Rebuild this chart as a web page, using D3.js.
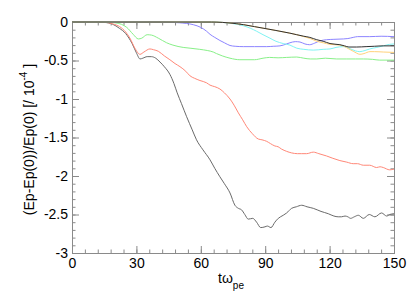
<!DOCTYPE html>
<html>
<head>
<meta charset="utf-8">
<script src="https://cdn.jsdelivr.net/npm/d3@7"></script>
<style>
  body { margin: 0; background: #fff; }
  text { font-family: "Liberation Sans", Arial, sans-serif; }
</style>
</head>
<body>
<div id="chart"></div>
<script>
// series: [t, value] pairs
var grayData = [[0,0],[10,0],[15,-0.005],[19,-0.03],[22,-0.08],[25,-0.15],[28,-0.28],[30,-0.4],[31.7,-0.48],[33,-0.47],[35,-0.45],[37,-0.45],[39,-0.47],[41,-0.52],[43,-0.58],[45.6,-0.68],[47.5,-0.8],[49,-0.92],[51,-1.06],[53.4,-1.23],[56,-1.4],[58,-1.53],[61,-1.66],[64.3,-1.79],[66.5,-1.9],[68.9,-2.01],[71,-2.1],[73.6,-2.22],[75.9,-2.38],[77.5,-2.42],[79,-2.44],[80.5,-2.5],[82.1,-2.56],[84.2,-2.55],[86,-2.6],[87.9,-2.67],[89.9,-2.66],[91,-2.65],[92.7,-2.67],[94.5,-2.6],[96.1,-2.55],[98.4,-2.51],[100,-2.48],[102.3,-2.42],[104.5,-2.4],[107,-2.38],[109.5,-2.4],[112.4,-2.42],[116,-2.46],[119.4,-2.49],[122,-2.52],[124,-2.53],[125.5,-2.53],[127.2,-2.52],[128.5,-2.53],[129.8,-2.55],[131.5,-2.53],[133.4,-2.51],[135.7,-2.55],[138.5,-2.5],[141.1,-2.53],[144.2,-2.48],[146.6,-2.52],[148,-2.5],[150,-2.49]];
var redData = [[0,0],[12,0],[16,-0.005],[19,-0.025],[22.2,-0.06],[25,-0.13],[27,-0.21],[29.3,-0.34],[31.7,-0.42],[33.5,-0.39],[36.3,-0.35],[38,-0.36],[40.2,-0.38],[43,-0.44],[45.6,-0.49],[48,-0.54],[50.3,-0.58],[53,-0.64],[55,-0.7],[57,-0.73],[59.6,-0.76],[62.7,-0.79],[64.3,-0.82],[66.5,-0.84],[68.9,-0.87],[71,-0.92],[73.6,-1.0],[75.5,-1.08],[77.5,-1.18],[79.5,-1.27],[81.4,-1.36],[84,-1.45],[86.8,-1.52],[88.5,-1.53],[90.7,-1.55],[92.5,-1.58],[94.5,-1.61],[96,-1.62],[97.6,-1.65],[100,-1.68],[102.3,-1.7],[105,-1.71],[107,-1.71],[109.3,-1.71],[112.4,-1.69],[115,-1.71],[118.6,-1.74],[121.5,-1.77],[124.8,-1.8],[128,-1.82],[131,-1.84],[133,-1.84],[135.7,-1.86],[138.7,-1.86],[141.9,-1.89],[143.5,-1.88],[145,-1.89],[148,-1.92],[150,-1.91]];
var greenData = [[0,0],[15,0],[20,-0.01],[23,-0.03],[25.5,-0.07],[28.5,-0.16],[30.9,-0.22],[32.5,-0.21],[35,-0.165],[37,-0.17],[40.2,-0.21],[44.1,-0.27],[47,-0.3],[51.8,-0.33],[55,-0.34],[59.5,-0.355],[63,-0.37],[65.8,-0.39],[67.3,-0.41],[70,-0.44],[73.6,-0.47],[78.2,-0.49],[85,-0.49],[89,-0.47],[92,-0.46],[96,-0.465],[100,-0.46],[104.7,-0.455],[108,-0.47],[111,-0.48],[114,-0.48],[118,-0.47],[123.3,-0.48],[128,-0.48],[132,-0.48],[135.7,-0.48],[140,-0.485],[143.3,-0.495],[150,-0.495]];
var blueData = [[0,0],[40,0],[45.6,-0.003],[50,-0.01],[56.5,-0.035],[60,-0.07],[62.7,-0.12],[64.3,-0.16],[66.5,-0.2],[68.9,-0.24],[71,-0.27],[73.6,-0.305],[76,-0.315],[79.8,-0.32],[85,-0.32],[90.7,-0.32],[94,-0.315],[96.9,-0.31],[98.4,-0.3],[101.5,-0.27],[104,-0.255],[106.2,-0.26],[108.5,-0.285],[110.7,-0.295],[113,-0.275],[115.5,-0.245],[118.6,-0.23],[122,-0.225],[126.4,-0.22],[128.5,-0.215],[131,-0.2],[133,-0.19],[138.7,-0.19],[144,-0.185],[150,-0.19]];
var cyanData = [[0,0],[65,0],[70,-0.005],[73.6,-0.015],[77,-0.03],[80,-0.05],[83,-0.08],[86,-0.12],[89,-0.165],[92.2,-0.21],[95,-0.25],[98.4,-0.28],[101.5,-0.3],[104.7,-0.34],[108,-0.355],[112.4,-0.365],[117,-0.355],[120.2,-0.35],[123,-0.33],[126.4,-0.32],[129,-0.34],[132,-0.375],[134.1,-0.385],[136.5,-0.37],[138.7,-0.35],[142,-0.33],[145,-0.31],[148,-0.29],[150,-0.285]];
var yellowData = [[0,0],[65,0],[70,-0.005],[73.6,-0.013],[80,-0.035],[85,-0.06],[89,-0.08],[95,-0.11],[101.5,-0.145],[104.7,-0.165],[108,-0.19],[111,-0.215],[114,-0.25],[117,-0.27],[120.2,-0.29],[124.8,-0.3],[127,-0.32],[129,-0.35],[131,-0.38],[132.6,-0.405],[134.1,-0.42],[136,-0.41],[138.8,-0.385],[141,-0.385],[145,-0.39],[150,-0.395]];
var blackData = [[0,0],[65,0],[70,-0.005],[73.6,-0.013],[80,-0.035],[85,-0.06],[89,-0.08],[95,-0.11],[101.5,-0.145],[104.7,-0.165],[108,-0.185],[110.8,-0.2],[114,-0.23],[117,-0.25],[120.2,-0.28],[124.8,-0.295],[127,-0.31],[129,-0.325],[132.6,-0.325],[137,-0.32],[141,-0.315],[145,-0.31],[150,-0.31]];

var xTicks = [0, 30, 60, 90, 120, 150];
var yTicks = [0, -0.5, -1, -1.5, -2, -2.5, -3];

var svgWidth = 415;
var svgHeight = 297;

var margin = {
  top: 22,
  right: 21,
  bottom: 44,
  left: 72
};

var width = svgWidth - margin.left - margin.right;
var height = svgHeight - margin.top - margin.bottom;

var svg = d3.select("#chart")
    .append("svg")
    .attr("width", svgWidth)
    .attr("height", svgHeight);

var chartGroup = svg.append("g")
    .attr("transform", `translate(${margin.left}, ${margin.top})`);

var xScale = d3.scaleLinear().domain([0, 150]).range([0, width]);
var yScale = d3.scaleLinear().domain([-3, 0]).range([height, 0]);

var xMinor = d3.range(0, 151, 6);
var yMinor = d3.range(0, 31).map(i => -i / 10);

var axisColor = "#8a8a8a";

// minor ticks, all four sides, pointing inward
function drawAxis(axis, transform) {
  var g = chartGroup.append("g")
      .attr("transform", transform)
      .call(axis);
  g.selectAll("line").attr("stroke", axisColor);
  g.select(".domain").attr("stroke", axisColor);
  g.selectAll("text")
      .attr("fill", "#000")
      .style("font-size", "14px")
      .style("font-family", "'Liberation Sans', Arial, sans-serif");
  return g;
}

drawAxis(d3.axisBottom(xScale).tickValues(xMinor).tickSize(-3.5).tickFormat(""), `translate(0,${height})`);
drawAxis(d3.axisTop(xScale).tickValues(xMinor).tickSize(-3.5).tickFormat(""), "translate(0,0)");
drawAxis(d3.axisLeft(yScale).tickValues(yMinor).tickSize(-3.5).tickFormat(""), "translate(0,0)");
drawAxis(d3.axisRight(yScale).tickValues(yMinor).tickSize(-3.5).tickFormat(""), `translate(${width},0)`);

// major ticks with labels
drawAxis(d3.axisBottom(xScale).tickValues(xTicks).tickSizeInner(-7).tickSizeOuter(0).tickPadding(5)
    .tickFormat(d => String(d)), `translate(0,${height})`);
drawAxis(d3.axisTop(xScale).tickValues(xTicks).tickSizeInner(-7).tickSizeOuter(0).tickFormat(""), "translate(0,0)");
drawAxis(d3.axisLeft(yScale).tickValues(yTicks).tickSizeInner(-7).tickSizeOuter(0).tickPadding(4)
    .tickFormat(d => String(d)), "translate(0,0)");
drawAxis(d3.axisRight(yScale).tickValues(yTicks).tickSizeInner(-7).tickSizeOuter(0).tickFormat(""), `translate(${width},0)`);

var line = d3.line()
    .x(d => xScale(d[0]))
    .y(d => yScale(d[1]))
    .curve(d3.curveMonotoneX);

var series = [
  { data: grayData, color: "#6a6a6a" },
  { data: redData, color: "#ff8878" },
  { data: greenData, color: "#88f088" },
  { data: blueData, color: "#8c84ff" },
  { data: cyanData, color: "#80f4f4" },
  { data: yellowData, color: "#ffd27a" },
  { data: blackData, color: "#303030" }
];

series.forEach(s => {
  chartGroup.append("path")
      .datum(s.data)
      .attr("fill", "none")
      .attr("stroke", s.color)
      .attr("stroke-width", 1)
      .attr("d", line);
});

// axis titles
var yLabel = svg.append("text")
    .attr("transform", `translate(34, ${margin.top + height / 2 + 2}) rotate(-90)`)
    .attr("text-anchor", "middle")
    .style("font-size", "14px")
    .attr("fill", "#000");
yLabel.append("tspan").text("(Ep-Ep(0))/Ep(0) [/ 10");
yLabel.append("tspan").attr("dy", -7).style("font-size", "10px").text("-4");
yLabel.append("tspan").attr("dy", 7).text(" ]");

var xLabel = svg.append("text")
    .attr("x", 231)
    .attr("y", 283)
    .attr("text-anchor", "middle")
    .style("font-size", "14px")
    .attr("fill", "#000");
xLabel.append("tspan").text("tω");
xLabel.append("tspan").attr("dy", 6).style("font-size", "10px").text("pe");
</script>
</body>
</html>
